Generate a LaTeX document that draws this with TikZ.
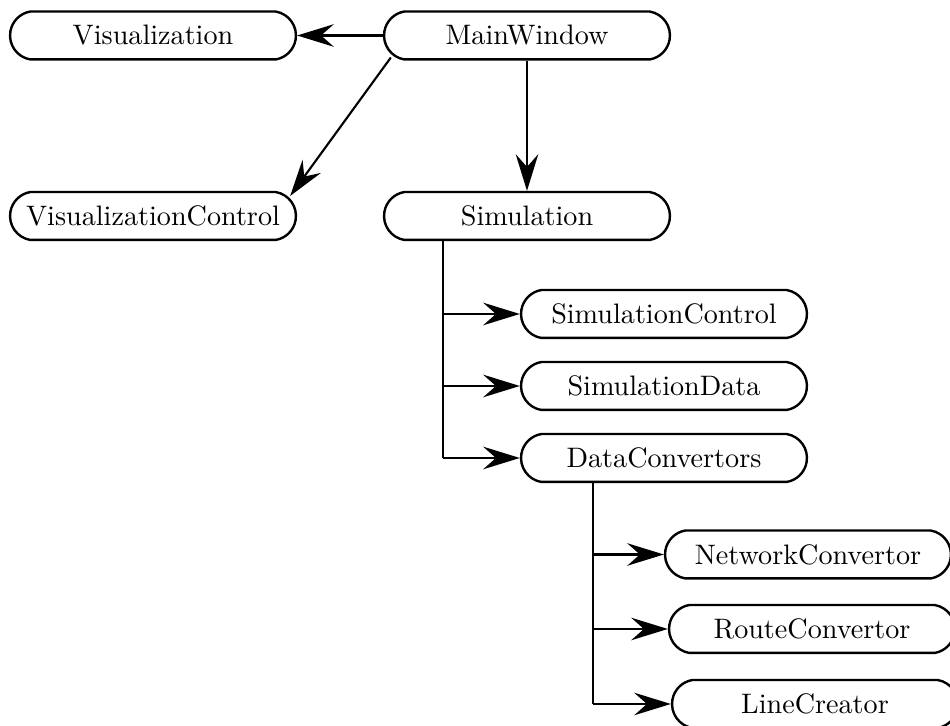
\documentclass[tikz,border=0pt]{standalone}
\usetikzlibrary{arrows.meta,calc,shapes.misc}
\tikzset{
  cls/.style={draw, line width=0.85pt, rounded rectangle, rounded rectangle arc length=160,
    minimum width=101.5pt, minimum height=17pt, inner sep=0pt, font=\normalsize},
  link/.style={line width=0.75pt, -{Stealth[length=13pt,width=8pt,inset=4.5pt]}},
  trunk/.style={line width=0.75pt}
}
\begin{document}
\begin{tikzpicture}[x=0.355pt, y=-0.355pt]
\useasboundingbox (0,0) rectangle (950,726);
% top level classes
\node[cls] (vis)  at (153,35.5) {Visualization};
\node[cls] (mw)   at (527,35.5) {MainWindow};
\node[cls] (vc)   at (153,216)  {VisualizationControl};
\node[cls] (sim)  at (527,216)  {Simulation};
% simulation parts
\node[cls] (sc)   at (664,314) {SimulationControl};
\node[cls] (sd)   at (664,386) {SimulationData};
\node[cls] (dc)   at (664,458) {DataConvertors};
% converters
\node[cls] (nc)   at (808,554.5) {NetworkConvertor};
\node[cls] (rc)   at (812,629)   {RouteConvertor};
\node[cls] (lc)   at (815,704)   {LineCreator};

% main window links
\draw[link] ($(mw.west)+(8,22)$) -- ($(vc.east)+(-7,-20)$);
\draw[link] (mw.west) -- (vis.east);
\draw[link] (mw.south) -- (sim.north);

% simulation tree
\coordinate (st) at (443,240);
\coordinate (sb) at (443,458);
\draw[trunk] (st) -- (sb);
\draw[link] (st |- sc) -- (sc.west);
\draw[link] (st |- sd) -- (sd.west);
\draw[link] (sb) -- (dc.west);

% converter tree
\coordinate (dt) at (593,482);
\coordinate (db) at (593,704);
\draw[trunk] (dt) -- (db);
\draw[link] (dt |- nc) -- (nc.west);
\draw[link] (dt |- rc) -- (rc.west);
\draw[link] (db) -- (lc.west);
\end{tikzpicture}
\end{document}
